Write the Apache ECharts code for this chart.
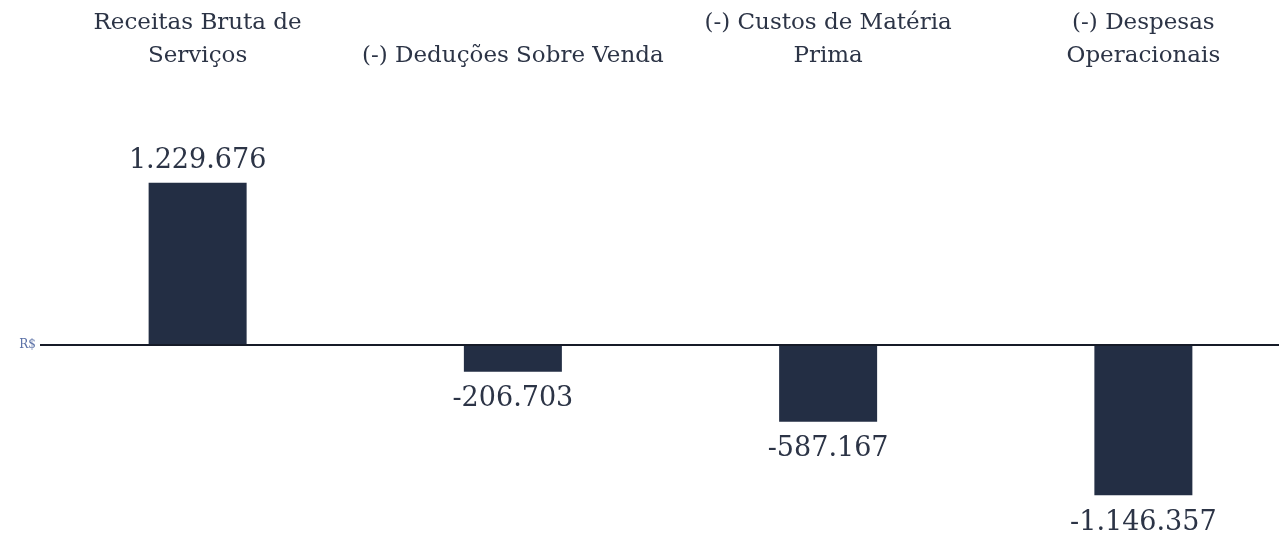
<!DOCTYPE html>
<html>
<head>
<meta charset="utf-8">
<script src="https://cdn.jsdelivr.net/npm/echarts@6/dist/echarts.min.js"></script>
<style>
  html, body { margin: 0; padding: 0; background: #fff; overflow: hidden; }
  #chart { width: 1301px; height: 534px; }
</style>
</head>
<body>
<div id="chart"></div>
<script>
const categories = [
  'Receitas Bruta de\nServiços',
  '(-) Deduções Sobre Venda',
  '(-) Custos de Matéria\nPrima',
  '(-) Despesas\nOperacionais'
];
const values = [1229676, -206703, -587167, -1146357];
const zeroLabel = 'R$';

const textColor = '#2c3446';
const barColor = '#232e44';
const fontFamily = '"DejaVu Serif", serif';

function fmt(v) {
  const s = Math.abs(v).toString().replace(/\B(?=(\d{3})+(?!\d))/g, '.');
  return (v < 0 ? '-' : '') + s;
}

const chart = echarts.init(document.getElementById('chart'));

chart.setOption({
  animation: false,
  // the plot runs past the right edge of the window, as in the original
  grid: { left: 40, right: 0, top: 100, bottom: 14, containLabel: false },
  xAxis: {
    type: 'category',
    position: 'top',
    data: categories,
    axisLine: { show: false, onZero: false },
    axisTick: { show: false },
    axisLabel: {
      margin: 27,
      color: textColor,
      fontFamily: fontFamily,
      fontSize: 23,
      lineHeight: 33,
      verticalAlign: 'bottom',
      interval: 0
    }
  },
  yAxis: {
    type: 'value',
    min: -1334725,
    max: 1860000,
    show: false,
    splitLine: { show: false }
  },
  series: [{
    type: 'bar',
    barWidth: 98,
    itemStyle: { color: barColor },
    data: values.map(v => ({
      value: v,
      label: { position: v < 0 ? 'bottom' : 'top', distance: v < 0 ? 14 : 8 }
    })),
    label: {
      show: true,
      color: textColor,
      fontFamily: fontFamily,
      fontSize: 27,
      formatter: p => fmt(p.value)
    },
    markLine: {
      silent: true,
      symbol: 'none',
      data: [{ yAxis: 0 }],
      lineStyle: { color: '#161b28', width: 2, type: 'solid' },
      label: {
        show: true,
        position: 'start',
        formatter: zeroLabel,
        color: '#5a70a6',
        fontFamily: fontFamily,
        fontSize: 12,
        distance: 4
      }
    }
  }]
});
</script>
</body>
</html>
